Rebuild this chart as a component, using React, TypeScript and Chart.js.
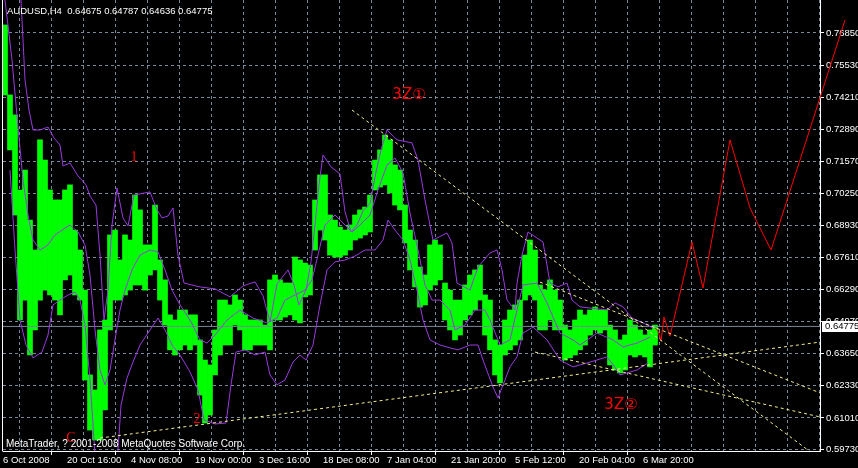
import React, { useEffect, useRef } from 'react';
import { Chart, registerables } from 'chart.js';

Chart.register(...registerables);

// ---- header values ----
const symbolName = 'AUDUSD';
const timeframe = 'H4';
const lastOHLC = [0.64675, 0.64787, 0.64636, 0.64775];
const lastClose = 0.64775;

// ---- axes ----
const priceTicks = [0.7685, 0.7553, 0.7421, 0.7289, 0.7157, 0.7025, 0.6893, 0.6761, 0.6629, 0.6497, 0.6365, 0.6233, 0.6101, 0.5973];
const timeTickBars = [0, 64, 128, 192, 256, 320, 384, 448, 512, 576, 640];
const timeTickLabels = ['6 Oct 2008', '20 Oct 16:00', '4 Nov 08:00', '19 Nov 00:00', '3 Dec 16:00', '18 Dec 08:00', '7 Jan 04:00', '21 Jan 20:00', '5 Feb 12:00', '20 Feb 04:00', '6 Mar 20:00'];
const priceMin = 0.59648;
const priceMax = 0.78208;
const barMax = 817;

// ---- price bars (ranges sampled every 5 H4 bars) ----
const barStart = 2;
const barStep = 5;
const barHigh = [
  0.7718, 0.7430, 0.7348, 0.7039, 0.7121, 0.6915, 0.6792, 0.7245, 0.7162, 0.7039,
  0.6998, 0.6998, 0.7039, 0.7060, 0.6874, 0.6792, 0.6627, 0.6278, 0.6216, 0.6463,
  0.6504, 0.6854, 0.6874, 0.6751, 0.6854, 0.6833, 0.7018, 0.6957, 0.6813, 0.6813,
  0.6977, 0.6751, 0.6669, 0.6525, 0.6504, 0.6545, 0.6545, 0.6525, 0.6525, 0.6422,
  0.6339, 0.6319, 0.6463, 0.6586, 0.6586, 0.6566, 0.6607, 0.6586, 0.6525, 0.6504,
  0.6504, 0.6504, 0.6483, 0.6669, 0.6689, 0.6669, 0.6656, 0.6656, 0.6763, 0.6751,
  0.6738, 0.6730, 0.6998, 0.7101, 0.7101, 0.6936, 0.6915, 0.6886, 0.6874, 0.6895,
  0.6936, 0.6957, 0.6969, 0.7018, 0.7162, 0.7204, 0.7265, 0.7245, 0.7142, 0.7121,
  0.6977, 0.6874, 0.6833, 0.6722, 0.6689, 0.6813, 0.6833, 0.6813, 0.6656, 0.6627,
  0.6586, 0.6586, 0.6648, 0.6689, 0.6710, 0.6730, 0.6607, 0.6586, 0.6422, 0.6401,
  0.6504, 0.6545, 0.6566, 0.6586, 0.6771, 0.6833, 0.6792, 0.6648, 0.6627, 0.6669,
  0.6627, 0.6586, 0.6483, 0.6463, 0.6504, 0.6545, 0.6525, 0.6545, 0.6557, 0.6545,
  0.6545, 0.6483, 0.6463, 0.6422, 0.6442, 0.6504, 0.6483, 0.6463, 0.6442, 0.6463,
  0.6483,
];
const barLow = [
  0.7430, 0.7204, 0.6936, 0.6504, 0.6586, 0.6360, 0.6463, 0.6586, 0.6627, 0.6607,
  0.6586, 0.6525, 0.6669, 0.6689, 0.6607, 0.6586, 0.6257, 0.6051, 0.6010, 0.6010,
  0.6134, 0.6463, 0.6586, 0.6586, 0.6607, 0.6627, 0.6648, 0.6648, 0.6627, 0.6689,
  0.6710, 0.6586, 0.6483, 0.6381, 0.6360, 0.6381, 0.6401, 0.6381, 0.6401, 0.6195,
  0.6080, 0.6113, 0.6278, 0.6360, 0.6401, 0.6401, 0.6483, 0.6463, 0.6381, 0.6381,
  0.6401, 0.6401, 0.6401, 0.6381, 0.6504, 0.6504, 0.6516, 0.6525, 0.6504, 0.6492,
  0.6599, 0.6607, 0.6792, 0.6874, 0.6833, 0.6771, 0.6763, 0.6763, 0.6771, 0.6792,
  0.6833, 0.6841, 0.6854, 0.6866, 0.7039, 0.7051, 0.7060, 0.7027, 0.6977, 0.6957,
  0.6821, 0.6710, 0.6640, 0.6557, 0.6566, 0.6627, 0.6648, 0.6669, 0.6504, 0.6463,
  0.6422, 0.6442, 0.6504, 0.6525, 0.6545, 0.6586, 0.6442, 0.6381, 0.6278, 0.6245,
  0.6360, 0.6381, 0.6401, 0.6422, 0.6586, 0.6607, 0.6586, 0.6463, 0.6463, 0.6504,
  0.6463, 0.6463, 0.6339, 0.6348, 0.6360, 0.6381, 0.6401, 0.6442, 0.6463, 0.6450,
  0.6463, 0.6319, 0.6298, 0.6286, 0.6298, 0.6360, 0.6352, 0.6360, 0.6352, 0.6311,
  0.6401,
];

// ---- purple bands: [bar, price] ----
const upperBand: [number, number][] = [
  [18, 0.7821], [22, 0.7492], [26, 0.7368], [30, 0.7286], [37, 0.7286], [45, 0.7298], [51, 0.7253], [57, 0.7224],
  [60, 0.7138], [67, 0.7150], [75, 0.7097], [83, 0.7060], [87, 0.7014], [93, 0.6977], [97, 0.6771], [101, 0.6504],
  [105, 0.6627], [109, 0.6895], [114, 0.7047], [120, 0.6924], [125, 0.6891], [131, 0.7018], [147, 0.7031], [154, 0.6957],
  [159, 0.6924], [165, 0.6932], [170, 0.6965], [175, 0.6771], [181, 0.6656], [197, 0.6640], [212, 0.6632], [227, 0.6599],
  [240, 0.6644], [252, 0.6661], [260, 0.6603], [267, 0.6496], [274, 0.6652], [285, 0.6710], [291, 0.6648], [296, 0.6566],
  [303, 0.6627], [308, 0.6743], [312, 0.6895], [316, 0.7060], [320, 0.7183], [328, 0.7134], [337, 0.7105], [342, 0.6949],
  [348, 0.6866], [354, 0.6895], [360, 0.6953], [367, 0.6982], [373, 0.7113], [378, 0.7204], [384, 0.7286], [394, 0.7245],
  [409, 0.7233], [415, 0.7162], [422, 0.6998], [430, 0.6833], [444, 0.6862], [449, 0.6821], [454, 0.6656], [467, 0.6627],
  [475, 0.6722], [487, 0.6780], [494, 0.6792], [499, 0.6710], [504, 0.6586], [512, 0.6545], [514, 0.6656], [519, 0.6771],
  [525, 0.6866], [540, 0.6825], [547, 0.6656], [555, 0.6640], [564, 0.6656], [569, 0.6586], [577, 0.6558], [604, 0.6545],
  [612, 0.6574], [620, 0.6558], [629, 0.6512], [640, 0.6492], [650, 0.6471],
];
const middleBand: [number, number][] = [
  [2, 0.7821], [9, 0.7574], [15, 0.7298], [20, 0.7080], [25, 0.6936], [30, 0.6833], [37, 0.6792], [45, 0.6813],
  [52, 0.6854], [59, 0.6874], [67, 0.6895], [75, 0.6866], [82, 0.6813], [87, 0.6689], [92, 0.6463], [97, 0.6298],
  [102, 0.6237], [107, 0.6298], [112, 0.6422], [117, 0.6545], [122, 0.6627], [129, 0.6710], [137, 0.6771], [147, 0.6792],
  [155, 0.6784], [162, 0.6710], [169, 0.6627], [177, 0.6566], [187, 0.6504], [197, 0.6422], [204, 0.6409], [212, 0.6442],
  [224, 0.6504], [237, 0.6545], [250, 0.6512], [264, 0.6492], [274, 0.6512], [282, 0.6586], [292, 0.6607], [302, 0.6627],
  [309, 0.6669], [315, 0.6771], [322, 0.6895], [332, 0.6936], [342, 0.6895], [349, 0.6866], [357, 0.6895], [367, 0.6936],
  [375, 0.7039], [384, 0.7142], [392, 0.7171], [400, 0.7109], [407, 0.6944], [415, 0.6792], [422, 0.6648], [429, 0.6586],
  [437, 0.6586], [447, 0.6545], [452, 0.6463], [462, 0.6483], [472, 0.6545], [482, 0.6545], [487, 0.6504], [497, 0.6401],
  [507, 0.6422], [514, 0.6545], [520, 0.6648], [534, 0.6656], [544, 0.6574], [557, 0.6450], [570, 0.6422], [577, 0.6401],
  [594, 0.6450], [610, 0.6422], [620, 0.6393], [634, 0.6409], [647, 0.6434],
];
const lowerBand: [number, number][] = [
  [7, 0.7121], [12, 0.6792], [17, 0.6504], [23, 0.6401], [30, 0.6348], [39, 0.6372], [45, 0.6442], [50, 0.6566],
  [57, 0.6586], [65, 0.6607], [72, 0.6619], [77, 0.6586], [82, 0.6483], [87, 0.6257], [91, 0.6010], [94, 0.5846],
  [105, 0.5763], [113, 0.5846], [115, 0.5969], [118, 0.6154], [124, 0.6265], [130, 0.6331], [137, 0.6401], [147, 0.6463],
  [155, 0.6512], [162, 0.6463], [169, 0.6401], [177, 0.6360], [187, 0.6290], [195, 0.6216], [201, 0.6093], [212, 0.6076],
  [223, 0.6080], [228, 0.6237], [233, 0.6372], [242, 0.6381], [252, 0.6360], [262, 0.6372], [267, 0.6278], [274, 0.6237],
  [282, 0.6257], [290, 0.6331], [297, 0.6360], [303, 0.6339], [310, 0.6401], [317, 0.6566], [324, 0.6710], [332, 0.6743],
  [342, 0.6751], [352, 0.6767], [362, 0.6792], [372, 0.6792], [380, 0.6833], [385, 0.6915], [392, 0.6874], [400, 0.6833],
  [407, 0.6751], [414, 0.6627], [420, 0.6504], [427, 0.6422], [437, 0.6401], [447, 0.6389], [455, 0.6381], [467, 0.6401],
  [475, 0.6401], [480, 0.6339], [490, 0.6228], [495, 0.6183], [507, 0.6311], [514, 0.6352], [520, 0.6450], [530, 0.6475],
  [544, 0.6422], [557, 0.6339], [570, 0.6311], [584, 0.6327], [604, 0.6352], [614, 0.6298], [617, 0.6278], [634, 0.6298],
  [645, 0.6327],
];

// ---- trend lines (yellow dashed): [bar, price] ----
const trendA: [number, number][] = [[349, 0.7368], [813, 0.5944]];
const trendB: [number, number][] = [[97, 0.6018], [817, 0.6413]];
const trendC: [number, number][] = [[537, 0.6660], [817, 0.6204]];
const trendD: [number, number][] = [[532, 0.6372], [817, 0.6105]];

// ---- red forecast path ----
const forecast: [number, number][] = [
  [652, 0.6471], [655, 0.6459], [658, 0.6418], [661, 0.6516], [667, 0.6438], [689, 0.6825],
  [700, 0.6636], [727, 0.7245], [747, 0.6965], [768, 0.6792], [842, 0.7738],
];

// ---- wave labels ----
const waveText = ['C', '1', '2', '3Z\u2460', '3Z\u2461'];
const waveBar = [68, 131, 194, 406, 618];
const wavePrice = [0.6018, 0.7175, 0.6097, 0.7430, 0.6154];
const waveFont = [
  '14px "Liberation Serif", serif',
  '14px "Liberation Serif", serif',
  '14px "Liberation Serif", serif',
  '15px "DejaVu Sans", "Noto Sans CJK JP", sans-serif',
  '15px "DejaVu Sans", "Noto Sans CJK JP", sans-serif',
];

const FONT_FAMILY = '"Liberation Sans", Arial, sans-serif';
const GRID = '#778899';
const PURPLE = '#9a3ae0';
const YELLOW = '#f6f08e';

const toXY = (pts: [number, number][]) => pts.map(([x, y]) => ({ x, y }));

export default function App() {
  const ref = useRef<HTMLCanvasElement | null>(null);

  useEffect(() => {
    document.body.style.margin = '0';
    document.body.style.background = '#000';
    const canvas = ref.current;
    if (!canvas) return;

    const labelFor = (v: number) => {
      const k = timeTickBars.indexOf(v);
      return k >= 0 ? timeTickLabels[k] : '';
    };

    const overlay = {
      id: 'mtOverlay',
      beforeDraw(chart: any) {
        const c = chart.ctx;
        c.save();
        c.fillStyle = '#000';
        c.fillRect(0, 0, chart.width, chart.height);
        c.restore();
      },
      afterDatasetsDraw(chart: any) {
        const c = chart.ctx;
        const xs = chart.scales.x;
        const ys = chart.scales.y;
        const area = chart.chartArea;
        c.save();
        c.fillStyle = '#ff0000';
        c.textAlign = 'center';
        c.textBaseline = 'middle';
        for (let i = 0; i < waveText.length; i++) {
          c.font = waveFont[i];
          c.fillText(waveText[i], xs.getPixelForValue(waveBar[i]), ys.getPixelForValue(wavePrice[i]));
        }
        c.fillStyle = '#ffffff';
        c.textAlign = 'left';
        c.textBaseline = 'alphabetic';
        c.font = '9.5px ' + FONT_FAMILY;
        const title = symbolName + ',' + timeframe + '  ' + lastOHLC.map((v) => v.toFixed(5)).join(' ');
        c.fillText(title, 7, 14);
        c.font = '10px ' + FONT_FAMILY;
        c.fillText('MetaTrader, ? 2001-2008 MetaQuotes Software Corp.', 6, 447);
        c.strokeStyle = '#ffffff';
        c.lineWidth = 1;
        c.beginPath();
        c.moveTo(2.5, 0);
        c.lineTo(2.5, area.bottom + 0.5);
        c.stroke();
        c.restore();
      },
      afterDraw(chart: any) {
        const c = chart.ctx;
        const ys = chart.scales.y;
        const y = Math.round(ys.getPixelForValue(lastClose));
        c.save();
        c.fillStyle = '#ffffff';
        c.fillRect(822, y - 5, 36, 11);
        c.fillStyle = '#000000';
        c.font = '9.5px ' + FONT_FAMILY;
        c.textAlign = 'left';
        c.textBaseline = 'middle';
        c.fillText(lastClose.toFixed(5), 825, y + 0.5);
        c.restore();
      },
    };

    const lineDs = (label: string, pts: [number, number][], color: string, order: number, extra: any = {}) => ({
      type: 'line',
      label,
      data: toXY(pts),
      borderColor: color,
      borderWidth: 1,
      pointRadius: 0,
      tension: 0,
      order,
      ...extra,
    });

    const chart = new Chart(canvas, {
      type: 'bar',
      data: {
        datasets: [
          lineDs('trendA', trendA, YELLOW, 0, { borderDash: [3, 3] }),
          lineDs('trendB', trendB, YELLOW, 0, { borderDash: [3, 3] }),
          lineDs('trendC', trendC, YELLOW, 0, { borderDash: [3, 3] }),
          lineDs('trendD', trendD, YELLOW, 0, { borderDash: [3, 3] }),
          lineDs('forecast', forecast, '#ff0000', 1, { clip: false }),
          lineDs('upper', upperBand, PURPLE, 2),
          lineDs('middle', middleBand, PURPLE, 2),
          lineDs('lower', lowerBand, PURPLE, 2),
          lineDs('bid', [[0, lastClose], [barMax, lastClose]], GRID, 3),
          {
            type: 'bar',
            label: 'AUDUSD',
            data: barHigh.map((h, i) => ({ x: barStart + i * barStep, y: [barLow[i], h] })),
            backgroundColor: '#00ff00',
            borderWidth: 0,
            barThickness: 5,
            grouped: false,
            order: 4,
          },
        ] as any,
      },
      options: {
        animation: false,
        responsive: false,
        maintainAspectRatio: false,
        devicePixelRatio: 1,
        events: [],
        layout: { padding: { left: 3, top: 0, right: 0, bottom: 0 } },
        plugins: { legend: { display: false }, tooltip: { enabled: false }, title: { display: false } },
        scales: {
          x: {
            type: 'linear',
            min: 0,
            max: barMax,
            position: 'bottom',
            offset: false,
            afterBuildTicks: (s: any) => {
              const t = [];
              for (let v = 0; v <= barMax; v += 32) t.push({ value: v });
              s.ticks = t;
            },
            afterFit: (s: any) => {
              s.height = 17;
              s.paddingLeft = 0;
              s.paddingRight = 0;
            },
            grid: {
              color: (ctx: any) => (ctx.index === 0 ? 'rgba(0,0,0,0)' : GRID),
              lineWidth: 1,
              drawTicks: true,
              tickLength: 4,
              tickColor: (ctx: any) => (ctx.tick && labelFor(ctx.tick.value) ? '#ffffff' : 'rgba(0,0,0,0)'),
            },
            border: { display: true, color: '#ffffff', width: 1, dash: [3, 3] },
            ticks: {
              autoSkip: false,
              maxRotation: 0,
              minRotation: 0,
              align: 'start',
              padding: 0,
              color: '#ffffff',
              font: { family: FONT_FAMILY, size: 9.5 },
              callback: (v: any) => labelFor(Number(v)),
            },
          },
          y: {
            type: 'linear',
            position: 'right',
            min: priceMin,
            max: priceMax,
            afterBuildTicks: (s: any) => {
              s.ticks = priceTicks.map((v) => ({ value: v }));
            },
            afterFit: (s: any) => {
              s.width = 38;
              s.paddingTop = 0;
              s.paddingBottom = 0;
            },
            grid: {
              color: GRID,
              lineWidth: 1,
              drawTicks: true,
              tickLength: 4,
              tickColor: '#ffffff',
            },
            border: { display: true, color: '#ffffff', width: 1, dash: [3, 3] },
            ticks: {
              autoSkip: false,
              padding: 2,
              color: '#ffffff',
              font: { family: FONT_FAMILY, size: 9.5 },
              callback: (v: any) => Number(v).toFixed(5),
            },
          },
        },
      } as any,
      plugins: [overlay],
    });

    return () => chart.destroy();
  }, []);

  return <canvas ref={ref} width={858} height={468} style={{ display: 'block', background: '#000' }} />;
}
